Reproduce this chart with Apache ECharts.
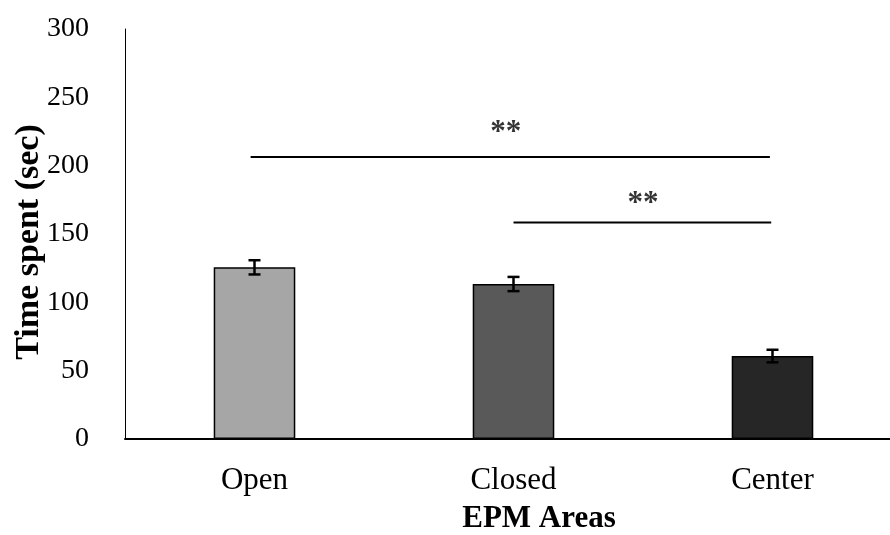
<!DOCTYPE html>
<html>
<head>
<meta charset="utf-8">
<script src="https://cdn.jsdelivr.net/npm/echarts@6/dist/echarts.min.js"></script>
<style>html,body{margin:0;padding:0;background:#fff}#c{width:890px;height:535px}</style>
</head>
<body>
<div id="c"></div>
<script>
var categories = ['Open', 'Closed', 'Center'];
var values = [125.6, 113.4, 60.7];
var errors = [5.2, 5.2, 4.6];
var barColors = ['#a6a6a6', '#595959', '#262626'];
var yTicks = [0, 50, 100, 150, 200, 250, 300];
// significance brackets: [xStart, xEnd, y] in category units (0..3)
var sigLines = [[0.485, 2.49, 206.3], [1.5, 2.495, 158.5]];
var sigLabels = [[1.47, 224, '**'], [2.0, 172, '**']];

var font = 'Liberation Serif';
var chart = echarts.init(document.getElementById('c'));

var lineSeries = sigLines.map(function (l) {
  return {
    type: 'line', xAxisIndex: 1, yAxisIndex: 0,
    data: [[l[0], l[2]], [l[1], l[2]]],
    symbol: 'none', silent: true,
    lineStyle: { color: '#000', width: 2 }
  };
});

var option = {
  animation: false,
  grid: { left: 125, top: 29, bottom: 96, right: -12, containLabel: false, outerBoundsMode: 'none' },
  xAxis: [{
    type: 'category', data: categories,
    axisLine: { lineStyle: { color: '#000', width: 2 } },
    axisTick: { show: false },
    axisLabel: { color: '#000', fontFamily: font, fontSize: 31, margin: 26 },
    name: 'EPM Areas', nameLocation: 'middle', nameGap: 64,
    nameTextStyle: { color: '#000', fontFamily: font, fontSize: 31, fontWeight: 'bold', padding: [0, 0, 0, 51] }
  }, {
    type: 'value', min: 0, max: 3, show: false
  }],
  yAxis: {
    type: 'value', min: 0, max: 300, interval: 50,
    axisLine: { show: true, lineStyle: { color: '#000', width: 1 } },
    axisTick: { show: false },
    splitLine: { show: false },
    axisLabel: { color: '#000', fontFamily: font, fontSize: 28, margin: 36,
      formatter: function (v) { return yTicks.indexOf(v) >= 0 ? String(v) : ''; } },
    name: 'Time spent (sec)', nameLocation: 'middle', nameGap: 79, nameMoveOverlap: false,
    nameTextStyle: { color: '#000', fontFamily: font, fontSize: 34, fontWeight: 'bold', padding: [0, 16, 0, 0] }
  },
  series: [{
    type: 'bar', barWidth: '31.5%',
    data: values.map(function (v, i) {
      return { value: v, itemStyle: { color: barColors[i], borderColor: '#000', borderWidth: 1.5 } };
    })
  }, {
    type: 'custom', silent: true, z: 5,
    data: values.map(function (v, i) { return [i, v - errors[i], v + errors[i]]; }),
    renderItem: function (params, api) {
      var lo = api.coord([api.value(0), api.value(1)]);
      var hi = api.coord([api.value(0), api.value(2)]);
      var hw = 6;
      var st = { stroke: '#000', lineWidth: 2.5 };
      return { type: 'group', children: [
        { type: 'line', shape: { x1: lo[0], y1: lo[1], x2: hi[0], y2: hi[1] }, style: st },
        { type: 'line', shape: { x1: lo[0] - hw, y1: lo[1], x2: lo[0] + hw, y2: lo[1] }, style: st },
        { type: 'line', shape: { x1: hi[0] - hw, y1: hi[1], x2: hi[0] + hw, y2: hi[1] }, style: st }
      ]};
    }
  }].concat(lineSeries).concat([{
    type: 'scatter', xAxisIndex: 1, yAxisIndex: 0, silent: true,
    symbolSize: 0,
    data: sigLabels.map(function (s) { return { value: [s[0], s[1]], name: s[2] }; }),
    label: { show: true, position: 'inside', formatter: function (p) { return p.name; },
      color: '#000', fontFamily: font, fontSize: 31, fontWeight: 'bold' }
  }])
};
chart.setOption(option);
</script>
</body>
</html>
